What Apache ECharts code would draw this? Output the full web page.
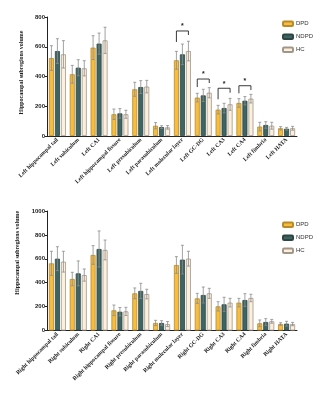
<!DOCTYPE html>
<html>
<head>
<meta charset="utf-8">
<script src="https://cdn.jsdelivr.net/npm/echarts@6/dist/echarts.min.js"></script>
<style>
  html, body { margin: 0; padding: 0; background: #fff; }
  #main { width: 322px; height: 400px; }
</style>
</head>
<body>
<div id="main"></div>
<script>
const leftCats = ["Left hippocampal tail", "Left subiculum", "Left CA1", "Left hippocampal fissure", "Left presubiculum", "Left parasubiculum", "Left molecular layer", "Left GC-DG", "Left CA3", "Left CA4", "Left fimbria", "Left HATA"];
const rightCats = ["Right hippocampal tail", "Right subiculum", "Right CA1", "Right hippocampal fissure", "Right presubiculum", "Right parasubiculum", "Right molecular layer", "Right GC-DG", "Right CA3", "Right CA4", "Right fimbria", "Right HATA"];
const groups = ["DPD", "NDPD", "HC"];

const leftDPD = [524, 415, 594, 146, 314, 69, 509, 258, 177, 222, 63, 52];
const leftDPDErr = [83, 60, 80, 35, 47, 21, 60, 29, 29, 29, 29, 11];
const leftNDPD = [571, 459, 621, 152, 329, 60, 549, 273, 188, 237, 74, 49];
const leftNDPDErr = [83, 54, 71, 32, 43, 9, 69, 41, 32, 28, 22, 9];
const leftHC = [549, 455, 643, 146, 332, 58, 571, 291, 213, 251, 69, 52];
const leftHCErr = [92, 51, 88, 27, 42, 12, 66, 34, 40, 29, 23, 13];

const rightDPD = [562, 431, 632, 169, 311, 63, 548, 269, 202, 233, 60, 54];
const rightDPDErr = [101, 56, 78, 44, 45, 22, 70, 42, 39, 36, 28, 11];
const rightNDPD = [601, 478, 682, 157, 331, 63, 593, 297, 219, 255, 71, 57];
const rightNDPDErr = [100, 104, 151, 35, 64, 19, 120, 67, 59, 53, 28, 20];
const rightHC = [576, 464, 674, 160, 305, 54, 601, 311, 233, 272, 77, 54];
const rightHCErr = [87, 51, 83, 34, 40, 21, 62, 42, 36, 31, 16, 14];

// significance brackets (left chart only)
const sigCats = [6, 7, 8, 9];
const sigTop = [706, 383, 321, 338];
const sigLeft = [632, 329, 247, 287];
const sigRight = [679, 356, 291, 309];

const leftTicks = { min: 0, max: 800, interval: 200 };
const rightTicks = { min: 0, max: 1000, interval: 200 };

const fills = ["#f6bd3f", "#3f6563", "#fcefdc"];
const borders = ["#b98a2c", "#2c4644", "#a1968a"];
const offsets = [-6, 0, 6];
const serif = "Liberation Serif";
const sans = "Liberation Sans";

function barSeries(i, data, axis) {
  return {
    name: groups[i],
    type: "bar",
    xAxisIndex: axis,
    yAxisIndex: axis,
    data: data,
    barWidth: 5,
    barGap: "20%",
    itemStyle: { color: fills[i], borderColor: borders[i], borderWidth: 0.8 },
    silent: true,
  };
}

function errSeries(i, vals, errs, axis) {
  return {
    type: "custom",
    xAxisIndex: axis,
    yAxisIndex: axis,
    z: 5,
    silent: true,
    data: vals.map((v, k) => [k, v - errs[k], v + errs[k]]),
    renderItem: function (params, api) {
      const x = api.coord([api.value(0), 0])[0] + offsets[i];
      const lo = api.coord([api.value(0), api.value(1)])[1];
      const hi = api.coord([api.value(0), api.value(2)])[1];
      const st = { stroke: "#8c8c8c", lineWidth: 0.8 };
      return {
        type: "group",
        children: [
          { type: "line", shape: { x1: x, y1: lo, x2: x, y2: hi }, style: st },
          { type: "line", shape: { x1: x - 1.5, y1: hi, x2: x + 1.5, y2: hi }, style: st },
          { type: "line", shape: { x1: x - 1.5, y1: lo, x2: x + 1.5, y2: lo }, style: st },
        ],
      };
    },
  };
}

function sigSeries(axis) {
  return {
    type: "custom",
    xAxisIndex: axis,
    yAxisIndex: axis,
    z: 6,
    silent: true,
    data: sigCats.map((c, k) => [c, sigTop[k], sigLeft[k], sigRight[k]]),
    renderItem: function (params, api) {
      const cx = api.coord([api.value(0), 0])[0];
      const top = api.coord([api.value(0), api.value(1)])[1];
      const yl = api.coord([api.value(0), api.value(2)])[1];
      const yr = api.coord([api.value(0), api.value(3)])[1];
      return {
        type: "group",
        children: [
          {
            type: "polyline",
            shape: { points: [[cx - 6, yl], [cx - 6, top], [cx + 6, top], [cx + 6, yr]] },
            style: { stroke: "#222", lineWidth: 0.9, fill: null },
          },
          {
            type: "text",
            x: cx,
            y: top - 1,
            style: { text: "*", fill: "#222", font: "bold 7px " + sans, align: "center", verticalAlign: "bottom" },
          },
        ],
      };
    },
  };
}

function xAxis(cats, grid) {
  return {
    type: "category",
    gridIndex: grid,
    data: cats,
    axisLine: { lineStyle: { color: "#222", width: 1 } },
    axisTick: { alignWithLabel: true, length: 2, lineStyle: { color: "#222" } },
    axisLabel: { interval: 0, rotate: 45, margin: 3, fontFamily: serif, fontWeight: "bold", fontSize: 5.8, color: "#222" },
  };
}

function yAxis(ticks, grid, namePad) {
  return {
    type: "value",
    gridIndex: grid,
    min: ticks.min,
    max: ticks.max,
    interval: ticks.interval,
    name: "Hippocampal subregions volume",
    nameLocation: "middle",
    nameGap: 23,
    nameTextStyle: { fontFamily: serif, fontWeight: "bold", fontSize: 6, color: "#222", padding: namePad },
    axisLine: { show: true, lineStyle: { color: "#222", width: 1 } },
    axisTick: { show: true, length: 2, lineStyle: { color: "#222" } },
    splitLine: { show: false },
    axisLabel: { margin: 2, fontFamily: sans, fontWeight: "bold", fontSize: 6, color: "#222", formatter: (v) => String(v) },
  };
}

function legend(top) {
  return {
    data: groups,
    orient: "vertical",
    left: 277,
    top: top,
    itemWidth: 10,
    itemHeight: 4.5,
    itemGap: 6.5,
    selectedMode: false,
    textStyle: { fontFamily: sans, fontSize: 6, color: "#333", padding: [0, 0, 0, -2] },
  };
}

const chart = echarts.init(document.getElementById("main"));
chart.setOption({
  animation: false,
  grid: [
    { left: 47, right: 25, top: 17, height: 119 },
    { left: 47, right: 25, top: 211, height: 119.5 },
  ],
  legend: [legend(15.5), legend(216.5)],
  xAxis: [xAxis(leftCats, 0), xAxis(rightCats, 1)],
  yAxis: [yAxis(leftTicks, 0, [0, 0, 0, 8]), yAxis(rightTicks, 1, [0, 0, 0, 36])],
  series: [
    barSeries(0, leftDPD, 0),
    barSeries(1, leftNDPD, 0),
    barSeries(2, leftHC, 0),
    errSeries(0, leftDPD, leftDPDErr, 0),
    errSeries(1, leftNDPD, leftNDPDErr, 0),
    errSeries(2, leftHC, leftHCErr, 0),
    sigSeries(0),
    barSeries(0, rightDPD, 1),
    barSeries(1, rightNDPD, 1),
    barSeries(2, rightHC, 1),
    errSeries(0, rightDPD, rightDPDErr, 1),
    errSeries(1, rightNDPD, rightNDPDErr, 1),
    errSeries(2, rightHC, rightHCErr, 1),
  ],
});
</script>
</body>
</html>
